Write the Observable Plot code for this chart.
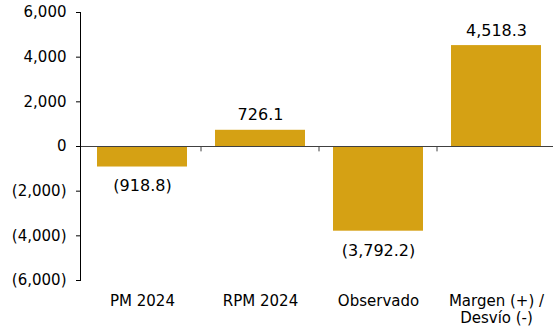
<!DOCTYPE html>
<html><head><meta charset="utf-8">
<script src="https://cdn.jsdelivr.net/npm/d3@7"></script>
<script src="https://cdn.jsdelivr.net/npm/@observablehq/plot@0.6"></script>
<style>body{margin:0;background:#fff}</style>
</head><body><div id="chart"></div>
<script>
const categories = ["PM 2024", "RPM 2024", "Observado", "Margen (+) / Desvío (-)"];
const tickLabels = ["PM 2024", "RPM 2024", "Observado", "Margen (+) /\nDesvío (-)"];
const values = [-918.8, 726.1, -3792.2, 4518.3];
const yTicks = [-6000, -4000, -2000, 0, 2000, 4000, 6000];

const data = categories.map((c, i) => ({cat: c, v: values[i]}));
const fmt = v => { const s = d3.format(",")(Math.abs(v)); return v < 0 ? `(${s})` : s; };
const fmt1 = v => { const s = d3.format(",.1f")(Math.abs(v)); return v < 0 ? `(${s})` : s; };

const W = 553, ML = 80, MR = -5, PI = 0.235, PO = 0.126;
const step = (W - ML - MR) / (categories.length - PI + 2 * PO);

const chart = Plot.plot({
  width: W, height: 329,
  marginLeft: ML, marginRight: MR, marginTop: 12, marginBottom: 49,
  style: {fontFamily: "DejaVu Sans, Verdana, sans-serif", fontSize: "15px", color: "#000", background: "#fff"},
  x: {domain: categories, paddingInner: PI, paddingOuter: PO, label: null},
  y: {domain: [-6000, 6000], label: null},
  marks: [
    Plot.barY(data, {x: "cat", y: "v", fill: "#D5A114"}),
    Plot.ruleX(categories.slice(1), {x: d => d, y1: 0, y2: -240, dx: -step / 2, stroke: "#404040"}),
    Plot.ruleY([0], {stroke: "#404040", strokeWidth: 1.2}),
    Plot.frame({anchor: "left", stroke: "#000"}),
    Plot.axisY({ticks: yTicks, tickFormat: fmt, tickSize: 4, tickPadding: 10, fontSize: 15, label: null}),
    Plot.axisX({tickSize: 0, tickPadding: 13, fontSize: 15, label: null,
      tickFormat: d => tickLabels[categories.indexOf(d)], lineHeight: 1.15}),
    Plot.text(data.filter(d => d.v >= 0), {x: "cat", y: "v", text: d => fmt1(d.v), lineAnchor: "bottom", dy: -10, fontSize: 16, fill: "#000"}),
    Plot.text(data.filter(d => d.v < 0), {x: "cat", y: "v", text: d => fmt1(d.v), lineAnchor: "top", dy: 13, fontSize: 16, fill: "#000"})
  ]
});
document.getElementById("chart").appendChild(chart);
</script>
</body></html>
